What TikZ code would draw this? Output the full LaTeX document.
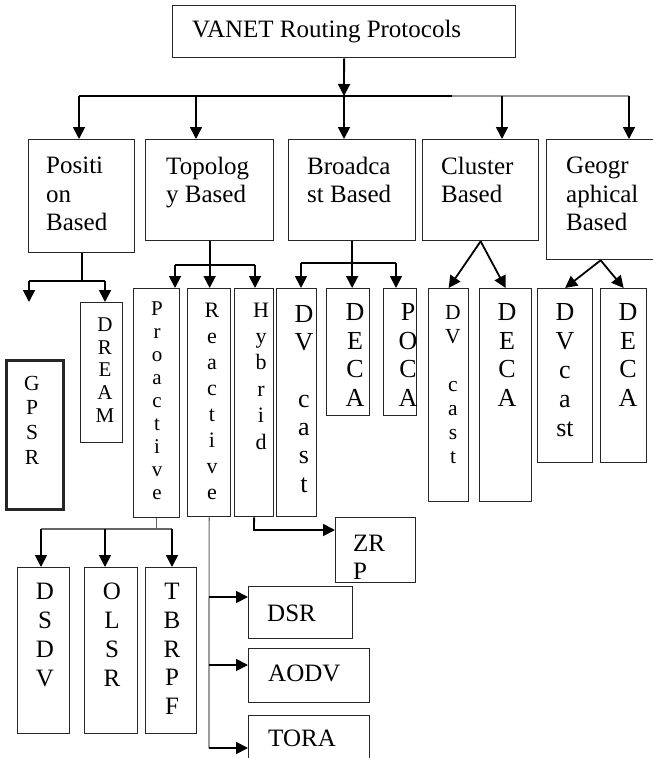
\documentclass[tikz,border=0pt]{standalone}
\usepackage{fontspec}
\setmainfont{Liberation Serif}
\usepackage{tikz}
\usetikzlibrary{arrows.meta}
\tikzset{
  box/.style={draw=black!85,line width=1.3pt,inner sep=0pt,anchor=north west},
  ar/.style={-{Triangle[length=12pt,width=12pt]},line width=1.8pt},
  ln/.style={line width=1.8pt},
  lt/.style={line width=1.2pt,black!60},
  txt/.style={font=\fontsize{25}{28.3}\selectfont,align=left,inner sep=0pt},
  stk/.style 2 args={font=\fontsize{#1}{#2}\selectfont,align=center,inner sep=0pt}
}

\begin{document}
\begin{tikzpicture}[x=1pt,y=-1pt]
\clip (0,0) rectangle (653,758);
% boxes
\node[box,minimum width=343pt,minimum height=52pt] (vanet) at (172,5) {};
\node[box,minimum width=106pt,minimum height=113pt] (pos) at (28,139) {};
\node[box,minimum width=128pt,minimum height=101pt] (topo) at (145,139) {};
\node[box,minimum width=127pt,minimum height=101pt] (bcast) at (288,139) {};
\node[box,minimum width=116pt,minimum height=101pt] (clus) at (422,139) {};
\node[box,minimum width=108pt,minimum height=120pt] (geo) at (546,139) {};
\node[box,line width=2.5pt,minimum width=57pt,minimum height=149pt] (gpsr) at (5,359) {};
\node[box,minimum width=42pt,minimum height=140pt] (dream) at (80,302) {};
\node[box,minimum width=46pt,minimum height=229pt] (pro) at (133,288) {};
\node[box,minimum width=43pt,minimum height=228pt] (rea) at (187,288) {};
\node[box,minimum width=39pt,minimum height=228pt] (hyb) at (234,288) {};
\node[box,minimum width=40pt,minimum height=228pt] (dvb) at (276,288) {};
\node[box,minimum width=43pt,minimum height=127pt] (decab) at (326,288) {};
\node[box,minimum width=33pt,minimum height=127pt] (poca) at (383,288) {};
\node[box,minimum width=40pt,minimum height=213pt] (dvc) at (428,288) {};
\node[box,minimum width=52pt,minimum height=213pt] (decac) at (479,288) {};
\node[box,minimum width=55pt,minimum height=174pt] (dvg) at (537,288) {};
\node[box,minimum width=46pt,minimum height=174pt] (decag) at (600,288) {};
\node[box,minimum width=52pt,minimum height=166pt] (dsdv) at (17,567) {};
\node[box,minimum width=53pt,minimum height=166pt] (olsr) at (84,567) {};
\node[box,minimum width=51pt,minimum height=166pt] (tbrpf) at (145,567) {};
\node[box,minimum width=80pt,minimum height=65pt] (zrp) at (335,517) {};
\node[box,minimum width=104pt,minimum height=52pt] (dsr) at (248,586) {};
\node[box,minimum width=121pt,minimum height=54pt] (aodv) at (248,648) {};
\node[box,minimum width=121pt,minimum height=70pt] (tora) at (248,715) {};
% texts
\node[txt,anchor=base west] (tvanet) at (192,37) {VANET Routing Protocols};
\node[txt,anchor=north west] (tpos) at (46,157) {Positi\\on\\Based};
\node[txt,anchor=north west] (ttopo) at (166,157) {Topolog\\y Based};
\node[txt,anchor=north west] (tbcast) at (307,157) {Broadca\\st Based};
\node[txt,anchor=north west] (tclus) at (441,157) {Cluster\\Based};
\node[txt,anchor=north west] (tgeo) at (566,157) {Geogr\\aphical\\Based};
\node[stk={21.5}{24.7}] (tgpsr) at (32,420) {G\\P\\S\\R};
\node[stk={21}{22.7}] (tdream) at (105,370) {D\\R\\E\\A\\M};
\node[stk={21}{23}] (tpro) at (157,401) {P\\r\\o\\a\\c\\t\\i\\v\\e};
\node[stk={22}{26}] (trea) at (212,401) {R\\e\\a\\c\\t\\i\\v\\e};
\node[stk={22}{26.4}] (thyb) at (261,376) {H\\y\\b\\r\\i\\d};
\node[stk={26}{28.3}] (tdvb) at (304,399) {D\\V\\[28.3pt]c\\a\\s\\t};
\node[stk={26}{28.4}] (tdecab) at (355,355) {D\\E\\C\\A};
\node[stk={26}{28.4}] (tpoca) at (408,355) {P\\O\\C\\A};
\node[stk={21.5}{24}] (tdvc) at (453,385) {D\\V\\[24pt]c\\a\\s\\t};
\node[stk={26}{28.4}] (tdecac) at (507,355) {D\\E\\C\\A};
\node[stk={26}{29}] (tdvg) at (565,370) {D\\V\\c\\a\\st};
\node[stk={26}{28.4}] (tdecag) at (628,355) {D\\E\\C\\A};
\node[stk={25}{29}] (tdsdv) at (45,635) {D\\S\\D\\V};
\node[stk={25}{29}] (tolsr) at (112,635) {O\\L\\S\\R};
\node[stk={25}{28.8}] (ttbrpf) at (172,649) {T\\B\\R\\P\\F};
\node[txt,anchor=north west] (tzrp) at (353,535) {ZR\\P};
\node[txt,anchor=base west] (tdsr) at (267,621) {DSR};
\node[txt,anchor=base west] (taodv) at (268,681) {AODV};
\node[txt,anchor=base west] (ttora) at (268,746) {TORA};
% top level
\coordinate (hub) at (344,96);
\coordinate (d1) at (79,96);
\coordinate (d2) at (196,96);
\coordinate (d4) at (502,96);
\coordinate (d5) at (629,96);
\coordinate (dg) at (452,96);
\draw[ar] (vanet.south) -- (hub);
\draw[ln] (d1) -- (dg);
\draw[ln,black!40] (dg) -- (d5);
\draw[ar] (d1) -- (d1 |- pos.north);
\draw[ar] (d2) -- (d2 |- topo.north);
\draw[ar] (hub) -- (hub |- bcast.north);
\draw[ar] (d4) -- (d4 |- clus.north);
\draw[ar] (d5) -- (d5 |- geo.north);
% position based
\coordinate (pl) at (29,281);
\coordinate (pr) at (105,281);
\coordinate (pend) at (29,302);
\draw[ln] (pos.south) -- (pos.south |- pl);
\draw[ln] (pl) -- (pr);
\draw[ar] (pl) -- (pend);
\draw[ar] (pr) -- (pr |- dream.north);
% topology based
\coordinate (t1) at (175,265);
\coordinate (t3) at (255,265);
\draw[ar] (topo.south) -- (topo.south |- rea.north);
\draw[ln] (t1) -- (t3);
\draw[ar] (t1) -- (t1 |- pro.north);
\draw[ar] (t3) -- (t3 |- hyb.north);
% broadcast based
\coordinate (b1) at (301,263);
\coordinate (b3) at (396,263);
\draw[ar] (bcast.south) -- (bcast.south |- decab.north);
\draw[ln] (b1) -- (b3);
\draw[ar] (b1) -- (b1 |- dvb.north);
\draw[ar] (b3) -- (b3 |- poca.north);
% cluster and geographical
\draw[ar] (clus.south) -- (dvc.north);
\draw[ar] (clus.south) -- (decac.north);
\draw[ar] (geo.south) -- (dvg.north);
\draw[ar] (geo.south) -- (decag.north);
% proactive
\coordinate (q1) at (41,529);
\coordinate (q2) at (105,529);
\coordinate (q3) at (172,529);
\draw[lt] (pro.south) -- (pro.south |- q1);
\draw[lt] (q1) -- (q3);
\draw[ar] (q1) -- (q1 |- dsdv.north);
\draw[ar] (q2) -- (q2 |- olsr.north);
\draw[ar] (q3) -- (q3 |- tbrpf.north);
% hybrid
\coordinate (hz) at (254,530);
\draw[ar] (hyb.south) -- (hz) -- (hz -| zrp.west);
% reactive
\coordinate (r1) at (209,597);
\coordinate (r2) at (209,665);
\coordinate (r3) at (209,748);
\draw[lt] (rea.south) -- (r3);
\draw[ar] (r1) -- (r1 -| dsr.west);
\draw[ar] (r2) -- (r2 -| aodv.west);
\draw[ar] (r3) -- (r3 -| tora.west);
\end{tikzpicture}
\end{document}
